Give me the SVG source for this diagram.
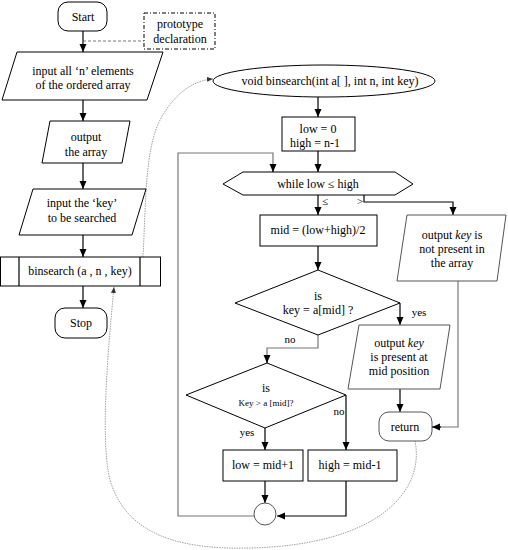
<svg xmlns="http://www.w3.org/2000/svg" width="508" height="550" viewBox="0 0 508 550">
<style>
.s{fill:#fff;stroke:#000;stroke-width:1}
.g{fill:none;stroke:#777;stroke-width:1.2}
.c{fill:none;stroke:#000;stroke-width:1.2}
.d{fill:none;stroke:#888;stroke-width:0.8;stroke-dasharray:1.5,1}
text{font-family:"Liberation Serif","Times New Roman",serif;font-size:12px;fill:#000;text-anchor:middle}
.sm{font-size:9px}
.lb{font-size:11px}
</style>
<defs>
<marker id="a" markerUnits="userSpaceOnUse" markerWidth="8" markerHeight="8" refX="8" refY="4" orient="auto"><path d="M0,0.5 L8,4 L0,7.5 z" fill="#000"/></marker>
<marker id="b" markerUnits="userSpaceOnUse" markerWidth="6" markerHeight="6" refX="6" refY="3" orient="auto"><path d="M0,0.5 L6,3 L0,5.5 z" fill="#333"/></marker>
</defs>
<g id="connectors">
<line class="c" x1="83" y1="31" x2="83" y2="52" marker-end="url(#a)"/>
<line x1="83" y1="41" x2="144" y2="41" stroke="#555" stroke-width="0.8" stroke-dasharray="3,2"/>
<line class="c" x1="83" y1="100" x2="83" y2="121" marker-end="url(#a)"/>
<line class="c" x1="83" y1="163" x2="83" y2="189" marker-end="url(#a)"/>
<line class="c" x1="83" y1="235" x2="83" y2="257" marker-end="url(#a)"/>
<line class="c" x1="83" y1="286" x2="83" y2="308" marker-end="url(#a)"/>
<line class="c" x1="318" y1="97" x2="318" y2="117" marker-end="url(#a)"/>
<line class="c" x1="318" y1="151" x2="318" y2="172" marker-end="url(#a)"/>
<polyline class="g" points="254,516 178,516 178,153 273,153 273,165"/>
<line class="c" x1="273" y1="164" x2="273" y2="172" marker-end="url(#a)"/>
<line class="c" x1="318" y1="195" x2="318" y2="215" marker-end="url(#a)"/>
<polyline class="c" points="364,195 364,202 453,202 453,215" marker-end="url(#a)"/>
<line class="c" x1="318" y1="246" x2="318" y2="270" marker-end="url(#a)"/>
<line class="c" x1="400" y1="303" x2="400" y2="325" marker-end="url(#a)"/>
<polyline class="g" points="318,335 318,348 267,348 267,356"/>
<line class="c" x1="267" y1="355" x2="267" y2="363" marker-end="url(#a)"/>
<line class="c" x1="346" y1="395" x2="346" y2="450" marker-end="url(#a)"/>
<line class="c" x1="265" y1="428" x2="265" y2="450" marker-end="url(#a)"/>
<line class="c" x1="265" y1="481" x2="265" y2="503" marker-end="url(#a)"/>
<polyline class="c" points="346,481 346,516 277,516" marker-end="url(#a)"/>
<line class="c" x1="400" y1="389" x2="400" y2="412" marker-end="url(#a)"/>
<polyline class="g" points="458,281 458,427 440,427"/>
<line class="c" x1="441" y1="427" x2="432" y2="427" marker-end="url(#a)"/>
<path class="d" d="M143,257 C146,200 145,150 160,120 C175,92 195,80 213,79" marker-end="url(#b)"/>
<path class="d" d="M415,441 C425,490 380,545 250,548 C170,550 125,530 110,480 C100,440 108,350 114,287" marker-end="url(#b)"/>
<text class="lb" x="325" y="205">≤</text>
<text class="lb" x="360" y="205">&gt;</text>
<text class="lb" x="419" y="316">yes</text>
<text class="lb" x="290" y="343">no</text>
<text class="lb" x="339" y="415">no</text>
<text class="lb" x="247" y="436">yes</text>
</g>
<g id="start"><rect class="s" x="58" y="2" width="49" height="29" rx="10"/><text x="83" y="21">Start</text></g>
<g id="proto"><rect x="144" y="13" width="71" height="36" fill="#fff" stroke="#000" stroke-width="1" stroke-dasharray="4,2,1,2"/><text x="180" y="28">prototype</text><text x="180" y="43">declaration</text></g>
<g id="input-array"><polygon class="s" points="17,52 163,52 147,100 2,100"/><text x="83" y="75">input all ‘n’ elements</text><text x="83" y="89">of the ordered array</text></g>
<g id="output-array"><polygon class="s" points="50,121 130,121 122,163 42,163"/><text x="86" y="141">output</text><text x="86" y="156">the array</text></g>
<g id="input-key"><polygon class="s" points="33,189 146,189 132,235 19,235"/><text x="82" y="207">input the ‘key’</text><text x="82" y="222">to be searched</text></g>
<g id="call"><rect class="s" x="0.5" y="257" width="160" height="29"/><line class="c" x1="19" y1="257" x2="19" y2="286" stroke-width="1"/><line class="c" x1="140" y1="257" x2="140" y2="286" stroke-width="1"/><text x="80" y="275">binsearch (a , n , key)</text></g>
<g id="stop"><rect class="s" x="55" y="308" width="52" height="30" rx="10"/><text x="81" y="327">Stop</text></g>
<g id="func"><ellipse class="s" cx="324" cy="81" rx="111" ry="16"/><text x="330" y="85">void binsearch(int a[ ], int n, int key)</text></g>
<g id="init"><rect class="s" x="282" y="117" width="73" height="34"/><text x="318" y="133">low = 0</text><text x="315" y="147">high = n-1</text></g>
<g id="while"><polygon class="s" points="223,184 243,172 395,172 413,184 395,195 243,195"/><text x="318" y="188">while low ≤ high</text></g>
<g id="mid"><rect class="s" x="260" y="215" width="117" height="31"/><text x="318" y="234">mid = (low+high)/2</text></g>
<g id="notfound"><polygon points="407,215 506,215 497,281 397,281" fill="#fff" stroke="#555" stroke-width="1"/><text x="452" y="239">output <tspan font-style="italic">key</tspan> is</text><text x="452" y="253">not present in</text><text x="452" y="267">the array</text></g>
<g id="eq"><polygon class="s" points="318,270 400,303 318,335 235,303"/><text x="318" y="300">is</text><text x="318" y="314">key = a[mid] ?</text></g>
<g id="found"><polygon class="s" points="359,325 450,325 440,389 348,389" style="stroke:#555"/><text x="399" y="347">output <tspan font-style="italic">key</tspan></text><text x="399" y="361">is present at</text><text x="399" y="375">mid position</text></g>
<g id="return"><rect class="s" x="379" y="412" width="53" height="29" rx="10" style="stroke:#555"/><text x="405" y="431">return</text></g>
<g id="gt"><polygon class="s" points="267,363 346,395 265,428 186,395"/><text x="266" y="392">is</text><text class="sm" x="266" y="406">Key &gt; a [mid]?</text></g>
<g id="low"><rect class="s" x="223" y="450" width="80" height="31"/><text x="263" y="469">low = mid+1</text></g>
<g id="high"><rect class="s" x="308" y="450" width="89" height="31"/><text x="350" y="469">high = mid-1</text></g>
<g id="join"><circle cx="265" cy="514" r="11" fill="#fff" stroke="#555" stroke-width="1"/></g>
</svg>
